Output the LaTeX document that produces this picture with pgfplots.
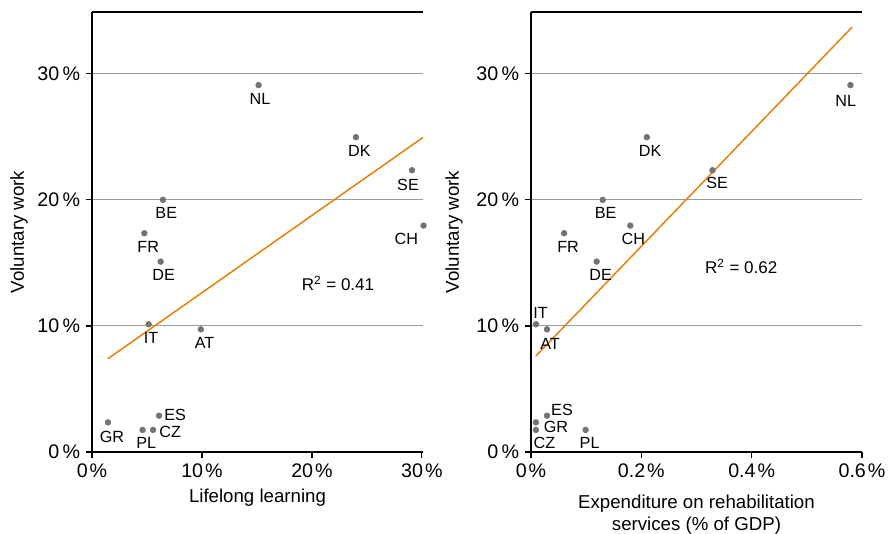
\documentclass[border=0pt]{standalone}
\usepackage{fontspec}
\setmainfont{Liberation Sans}
\usepackage{pgfplots}
\pgfplotsset{compat=1.18}
\usepackage{pgfplotstable}

\definecolor{dotgray}{RGB}{115,115,115}
\definecolor{fitorange}{RGB}{230,128,10}
\definecolor{gridgray}{RGB}{155,155,155}

% x y, label offset (pt), label
\pgfplotstableread{
x y dx dy label
15.15 29.1 0.8 -8.4 NL
24.0 24.97 2.1 -8.0 DK
29.1 22.35 -2.4 -8.8 SE
6.45 20.0 2.0 -8.0 BE
4.76 17.35 2.3 -8.0 FR
30.15 17.96 -10.3 -7.8 CH
6.24 15.1 1.8 -8.0 DE
5.15 10.13 1.5 -8.0 IT
9.9 9.73 2.2 -8.4 AT
6.1 2.88 9.7 0.4 ES
1.45 2.35 2.4 -8.6 GR
4.6 1.75 2.2 -8.0 PL
5.55 1.75 10.3 -1.4 CZ
}\lifelong

\pgfplotstableread{
x y dx dy label
0.579 29.1 -2.8 -9.6 NL
0.21 24.97 2.0 -8.0 DK
0.329 22.35 2.8 -7.8 SE
0.13 20.0 1.8 -8.0 BE
0.18 17.96 1.8 -7.8 CH
0.06 17.35 2.4 -8.0 FR
0.119 15.1 2.4 -8.0 DE
0.009 10.13 2.8 6.6 IT
0.029 9.73 1.8 -8.8 AT
0.029 2.88 9.0 3.4 ES
0.009 2.35 12.0 -3.0 GR
0.009 1.75 5.1 -8.0 CZ
0.099 1.75 2.4 -8.0 PL
}\rehab

\pgfplotsset{
  vwbase/.style={
    scale only axis, width=198.6pt, height=264pt,
    axis x line=box, axis y line=left,
    axis line style={-, line width=0.7pt},
    ymin=0, ymax=34.9, ytick={0,10,20,30},
    /pgf/number format/assume math mode=true,
    yticklabel={\pgfmathprintnumber{\tick}\,\%},
    xticklabel={\pgfmathprintnumber{\tick}\kern1.2pt\%},
    tick label style={font=\fontsize{11.8}{14}\selectfont},
    tick align=outside, major tick length=3.6pt,
    xtick pos=bottom, ytick pos=left,
    tick style={black, line width=0.7pt},
    ymajorgrids, grid style={gridgray, line width=0.6pt},
    clip=false,
    every axis y label/.style={at={(axis description cs:0,0.5)}, rotate=90, anchor=center,
      font=\fontsize{11.2}{13.2}\selectfont},
    every axis x label/.style={at={(axis description cs:0.5,0)}, anchor=center, align=center,
      font=\fontsize{11.2}{13.2}\selectfont},
  },
  countries/.style={
    only marks, mark=*, mark size=1.7pt, dotgray,
    point meta=explicit symbolic, nodes near coords,
    visualization depends on={\thisrow{dx} \as \ldx},
    visualization depends on={\thisrow{dy} \as \ldy},
    every node near coord/.append style={anchor=center, inner sep=0pt,
      xshift=\ldx pt, yshift=\ldy pt, text=black, font=\fontsize{9.7}{11}\selectfont},
  },
}

\begin{document}
\begin{tikzpicture}
\path[use as bounding box] (-55.2pt,-49.2pt) rectangle (479.4pt,271.2pt);

\begin{axis}[vwbase,
  xmin=0, xmax=30.1, xtick={0,10,20,30},
  xlabel={Lifelong learning}, ylabel={Voluntary work},
  xlabel style={yshift=-27.4pt}, ylabel style={yshift=43.8pt}]
  \addplot[countries] table[x=x, y=y, meta=label] {\lifelong};
  \addplot[fitorange, line width=0.9pt, no marks] coordinates {(1.45,7.4) (30.1,24.95)};
  \node[anchor=base west, inner sep=0pt, font=\fontsize{10.2}{12}\selectfont]
    at (axis cs:19.06,12.8) {R\textsuperscript{2} = 0.41};
\end{axis}

\begin{axis}[vwbase, at={(263.4pt,0pt)},
  xmin=0, xmax=0.6, xtick={0,0.2,0.4,0.6},
  xlabel={Expenditure on rehabilitation\\services (\% of GDP)}, ylabel={Voluntary work},
  xlabel style={yshift=-37.6pt}, ylabel style={yshift=46.2pt}]
  \addplot[countries] table[x=x, y=y, meta=label] {\rehab};
  \addplot[fitorange, line width=0.9pt, no marks] coordinates {(0.0085,7.6) (0.582,33.7)};
  \node[anchor=base west, inner sep=0pt, font=\fontsize{10.2}{12}\selectfont]
    at (axis cs:0.315,14.18) {R\textsuperscript{2} = 0.62};
\end{axis}
\end{tikzpicture}
\end{document}
